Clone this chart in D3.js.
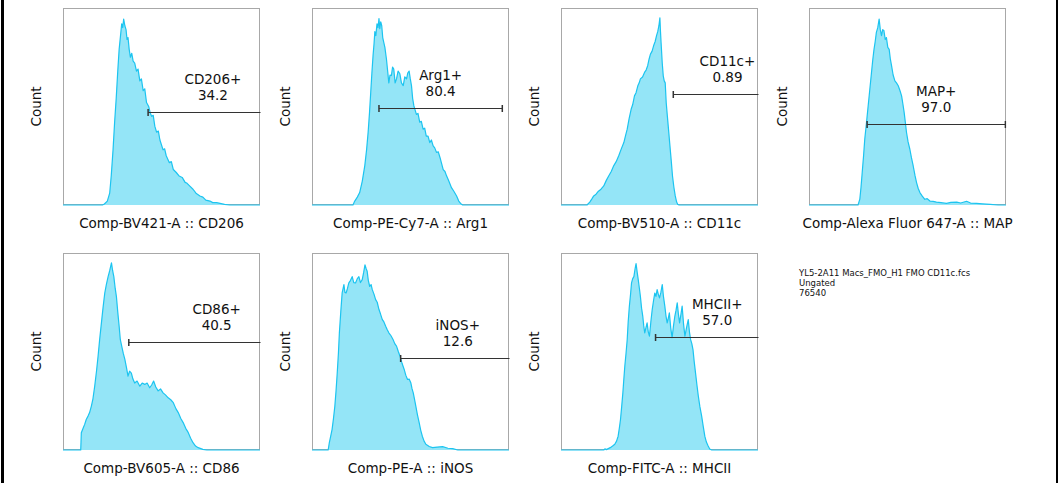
<!DOCTYPE html>
<html>
<head>
<meta charset="utf-8">
<script src="https://cdn.jsdelivr.net/npm/d3@7.9.0/dist/d3.min.js"></script>
<style>
  html, body { margin: 0; padding: 0; background: #fff; }
  svg { display: block; }
  text { font-family: "DejaVu Sans", sans-serif; fill: #111; }
</style>
</head>
<body>
<svg id="chart" width="1058" height="483"></svg>
<script>
// axis labels of each panel
const channels = [
  "Comp-BV421-A :: CD206",
  "Comp-PE-Cy7-A :: Arg1",
  "Comp-BV510-A :: CD11c",
  "Comp-Alexa Fluor 647-A :: MAP",
  "Comp-BV605-A :: CD86",
  "Comp-PE-A :: iNOS",
  "Comp-FITC-A :: MHCII"
];

// gate names and their percentages
const gateNames = ["CD206+", "Arg1+", "CD11c+", "MAP+", "CD86+", "iNOS+", "MHCII+"];
const gatePercents = ["34.2", "80.4", "0.89", "97.0", "40.5", "12.6", "57.0"];
// gate range (channel units, 0-100 on the display) and the count level it is drawn at
const gateStart = [43.2, 34, 57, 29.5, 33.4, 45, 48];
const gateEnd = [109, 96.6, 112, 99.7, 122.6, 103, 110.6];
const gateLevel = [47.3, 49, 56.3, 41, 54.7, 46.5, 57.4];

// sample info
const sampleInfo = ["YL5-2A11 Macs_FMO_H1 FMO CD11c.fcs", "Ungated", "76540"];

// histograms, [channel, % of max count]
const cd206Hist = [[0,0],[20,0],[21,0.5],[22.5,2],[23.7,6],[24.5,15],[25.4,28],[26.2,42],[27,54],[27.8,68],[28.5,79],[29.2,86],[29.8,92],[30.3,90],[30.8,94.4],[31.4,91],[32,89],[32.5,84],[33,85],[33.6,79],[34.2,75],[34.9,77],[35.6,73],[36.4,72],[37.3,68],[38.1,69],[39,63],[39.8,64],[40.7,58],[41.5,59],[42.4,52],[43.5,50],[44.2,47],[45,45],[45.8,45.5],[46.6,40],[47.5,37],[48.4,37.5],[49.2,33],[50.8,28],[51.6,28.5],[52.4,25],[54,21.5],[55,22],[56,18],[57.5,16.5],[59,14.7],[60.5,14],[62,11.5],[63,11],[64.4,9.6],[66,8],[67.5,6],[69.5,4.6],[71,4],[72.5,2.5],[74.6,2],[76,1.2],[78,1.2],[79.7,0.8],[82,0.3],[84.7,0],[100,0]];
const arg1Hist = [[0,0],[20.8,0],[21.7,2],[23,4],[24.2,6.3],[25.5,12],[26.8,20],[27.7,28],[28.5,37],[29.2,47],[29.8,57],[30.4,67],[31,76],[31.5,82],[31.9,88],[32.4,86],[33,92],[33.5,90],[34,94.6],[34.4,89.5],[34.9,93],[35.4,91],[35.9,85],[36.4,82.7],[37,80],[37.8,74],[38.4,68],[39,62],[39.6,66],[40.3,65.7],[40.9,70],[41.5,69],[42.2,62],[42.9,64],[43.7,68],[44.6,66.6],[45.4,62],[46.3,60.6],[47.1,65],[48,64],[48.6,67],[49.3,68],[49.9,64],[50.5,60.6],[51.1,54],[51.7,50.4],[52.4,48],[53,46],[53.8,46.5],[54.7,42],[55.5,42.5],[56.4,38.5],[57.2,39],[58,35],[58.9,35],[59.8,31.7],[60.6,33],[61.5,30],[62.3,29],[63.2,26.7],[64.1,27],[65,24],[65.8,21],[66.6,18],[67.5,17],[68.3,14.8],[69.5,12],[70.8,8.8],[72,7],[73.4,4.6],[74.5,2],[75.4,0.8],[76.5,0],[100,0]];
const cd11cHist = [[0,0],[13.2,0],[14.6,1.5],[15.6,3],[16.6,4.6],[17.8,5.5],[19,7],[20.3,8],[21.7,9.7],[23,12.5],[24.2,14.7],[25.5,17],[26.8,20],[28,22],[29.3,25],[30.6,28.5],[31.9,31.7],[32.7,35],[33.6,38.5],[34.6,44],[35.6,48.6],[36.4,51],[37.3,55.4],[38.1,57],[39,60.5],[39.7,62],[40.3,64],[41.4,65],[42.4,67.3],[43.2,68.5],[44,70.7],[44.7,74],[45.4,76.6],[46.2,78],[47,80.8],[47.8,83],[48.5,86],[49.1,88],[49.7,91],[50.2,95],[50.5,88],[50.8,82.5],[51.4,72],[51.9,65.6],[52.4,63],[52.9,62],[53.4,52],[54,45],[54.7,37],[55.3,30],[56,22],[56.6,14.7],[57.3,9],[58,4.6],[58.7,1.5],[59.3,0.3],[60,0],[100,0]];
const mapHist = [[0,0],[24.9,0],[25.8,3],[26.4,9],[27,16.4],[27.7,25],[28.3,33.4],[29.2,42],[30,50],[30.8,58],[31.7,67],[32.4,74],[33,79],[33.6,83],[34.2,87.6],[34.9,90],[35.6,94.4],[36.2,89],[36.8,86],[37.4,89],[38,88.6],[38.7,84],[39.3,85],[40,80],[40.7,79],[41.3,74],[41.9,70.7],[42.7,66],[43.6,63],[44.4,62],[45.3,60.5],[46.2,58],[47,55.4],[47.7,51],[48.3,47],[48.9,42],[49.5,36.8],[50.3,32],[51.2,28.3],[52,24],[52.9,19.8],[53.8,15],[54.6,11.4],[55.4,8.5],[56.3,6.3],[57.5,4.5],[58.8,2.9],[60,3.2],[61.4,2],[63,1.8],[64.7,1.5],[67,1.2],[69.8,0.8],[72,1.3],[75,1.5],[77,1],[80,1.9],[82,1],[85,0.8],[88,0.6],[92,0.3],[96,0],[100,0]];
const cd86Hist = [[0,0],[9,0],[9.3,8.8],[10.2,11],[11,13],[11.8,15.5],[12.7,17.2],[13.5,19],[14.4,22.3],[15.2,26],[16.1,32.4],[17,40],[17.8,47.6],[18.6,56],[19.5,64.5],[20.3,72],[21.2,79.7],[22,84],[22.9,88],[23.7,91],[24.6,95],[25.2,91],[25.8,88],[26.5,82],[27.1,78],[27.8,70],[28.5,62.8],[29.1,56],[29.8,52.7],[30.6,49],[31.4,46],[32.2,42],[33,37.5],[33.8,40],[34.7,39],[35.5,36],[36.4,34],[37.6,35],[39,32.4],[40.2,34],[41.5,33.3],[42.7,34],[44,31.6],[45,33],[46,35],[47.1,32],[48.3,30],[49.5,31],[50.8,29],[52,28],[53.4,26.5],[54.7,25.5],[56,24],[57.3,21],[58.5,19],[59.8,16],[61,13.9],[62.3,11],[63.6,8.8],[64.8,6],[66,3.7],[67.3,2],[68.6,1.2],[71,0.3],[73,0],[100,0]];
const inosHist = [[0,0],[8.2,0],[8.8,3.7],[9.5,7],[10.2,10.5],[10.9,16],[11.6,22.3],[12.2,30],[12.8,39],[13.4,49],[13.9,59.5],[14.6,70],[15.3,79.7],[15.8,82],[16.2,84],[16.7,80],[17.3,79.7],[18,82],[18.7,84.8],[19.5,86],[20.4,88],[21.2,85],[22.1,84.8],[23,87],[23.8,88],[24.6,85],[25.5,86.5],[26.2,90],[26.9,94],[27.5,92],[28,90.7],[28.6,86],[29.3,83],[30,84],[30.6,81.4],[31.5,79],[32.3,76.3],[33.1,75],[34,71.3],[34.8,69],[35.7,66.2],[36.5,65],[37.4,62.8],[38.2,61],[39,59.5],[40.1,58],[41.2,56],[42,54],[42.9,52.7],[43.8,50],[44.7,47.6],[45.7,44],[46.8,40.9],[47.6,38],[48.5,35.8],[49.3,36],[50.2,34],[50.8,31],[51.4,29],[52,26],[52.7,22.3],[53.5,18],[54.4,13.9],[55.2,10],[56,7],[56.9,4.5],[57.8,2.9],[59.5,1.8],[61.2,1.2],[63.5,1.5],[66.3,1.7],[69,0.9],[71.4,0.7],[74,0],[100,0]];
const mhciiHist = [[0,0],[21.7,0],[22.3,0.6],[23,0.2],[25,1.2],[26.2,2],[27.3,2.9],[28.2,4.5],[29,7],[29.6,11],[30.2,15.5],[30.8,22],[31.4,29],[31.9,36],[32.4,42.6],[33,49],[33.6,56],[34.1,65],[34.7,73],[35.3,79],[35.8,84.8],[36.4,87],[37,88],[37.6,92],[38.1,94.6],[38.7,90],[39.2,86.5],[39.8,82],[40.3,78],[40.9,72],[41.5,68],[42,63],[42.5,59.5],[43.1,62],[43.7,64.5],[44.3,60],[44.9,57.8],[45.6,65],[46.3,71.3],[47,76],[47.6,79.7],[48.2,78],[48.8,81.4],[49.4,79],[50,77.2],[50.7,80],[51.4,84],[52,78],[52.7,73],[53.3,68],[53.9,64.5],[54.5,67],[55,69.6],[55.7,62],[56.4,57],[57.1,63],[57.8,68],[58.4,71],[59,74.7],[59.6,69],[60.2,64.5],[60.9,69],[61.5,73],[62.2,64],[62.9,57.8],[63.7,62],[64.6,66.2],[65.2,60],[65.8,56],[66.4,54],[67,51],[67.6,45],[68.3,39],[69,33],[69.7,27.4],[70.5,22],[71.4,17.2],[72.2,12],[73,7],[73.8,4],[74.7,2],[75.5,0.5],[76.5,0],[100,0]];

const histograms = [cd206Hist, arg1Hist, cd11cHist, mapHist, cd86Hist, inosHist, mhciiHist];

// layout
const colLeft = [63, 312, 561, 809];
const rowTop = [8, 253];
const pw = 197, ph = 197;

const fillColor = "#94e5f7";
const lineColor = "#1cc4f0";

const svg = d3.select("#chart");

// page border strips
svg.append("rect").attr("x", 1).attr("y", 0).attr("width", 3).attr("height", 483).attr("fill", "#000");
svg.append("rect").attr("x", 1056).attr("y", 0).attr("width", 2).attr("height", 483).attr("fill", "#000");

const x = d3.scaleLinear().domain([0, 100]).range([0, pw]);
const y = d3.scaleLinear().domain([0, 100]).range([ph, 0]);

const area = d3.area()
  .x(d => x(d[0]))
  .y0(ph)
  .y1(d => y(d[1]));

const line = d3.line()
  .x(d => x(d[0]))
  .y(d => y(d[1]));

histograms.forEach((hist, i) => {
  const left = colLeft[i % 4];
  const top = rowTop[Math.floor(i / 4)];
  const g = svg.append("g").attr("transform", `translate(${left},${top})`);

  g.append("clipPath").attr("id", "clip" + i)
    .append("rect").attr("x", 0).attr("y", -20).attr("width", pw + 0.5).attr("height", ph + 20);

  // frame
  g.append("rect")
    .attr("x", 0.5).attr("y", 0.5)
    .attr("width", pw - 1).attr("height", ph - 1)
    .attr("fill", "none").attr("stroke", "#a8a8a8").attr("stroke-width", 1);

  g.append("path").datum(hist)
    .attr("d", area)
    .attr("fill", fillColor);
  g.append("path").datum(hist)
    .attr("d", line)
    .attr("fill", "none")
    .attr("stroke", lineColor)
    .attr("stroke-width", 1.2)
    .attr("stroke-linejoin", "round");

  // gate
  const gy = Math.round(y(gateLevel[i])) + 0.5;
  const gate = g.append("g").attr("clip-path", `url(#clip${i})`);
  gate.append("line")
    .attr("x1", x(gateStart[i])).attr("x2", x(gateEnd[i]))
    .attr("y1", gy).attr("y2", gy)
    .attr("stroke", "#333").attr("stroke-width", 1.2);
  [gateStart[i], gateEnd[i]].filter(v => v >= 0 && v <= 100).forEach(v => {
    gate.append("line")
      .attr("x1", x(v)).attr("x2", x(v))
      .attr("y1", gy - 3.5).attr("y2", gy + 3.5)
      .attr("stroke", "#333").attr("stroke-width", 1.5);
  });

  const labelX = x((gateStart[i] + gateEnd[i]) / 2);
  g.append("text")
    .attr("x", labelX).attr("y", gy - 29)
    .attr("text-anchor", "middle").attr("font-size", 13.5)
    .text(gateNames[i]);
  g.append("text")
    .attr("x", labelX).attr("y", gy - 13)
    .attr("text-anchor", "middle").attr("font-size", 13.5)
    .text(gatePercents[i]);

  // axis titles
  g.append("text")
    .attr("x", pw / 2).attr("y", ph + 23)
    .attr("text-anchor", "middle").attr("font-size", 13.5)
    .text(channels[i]);
  g.append("text")
    .attr("transform", `translate(-22,${ph / 2}) rotate(-90)`)
    .attr("text-anchor", "middle").attr("font-size", 13.5)
    .text("Count");
});

// sample info block
svg.append("g").selectAll("text")
  .data(sampleInfo)
  .join("text")
  .attr("x", 799)
  .attr("y", (d, i) => 276 + i * 10)
  .attr("font-size", 8.5)
  .text(d => d);
</script>
</body>
</html>
